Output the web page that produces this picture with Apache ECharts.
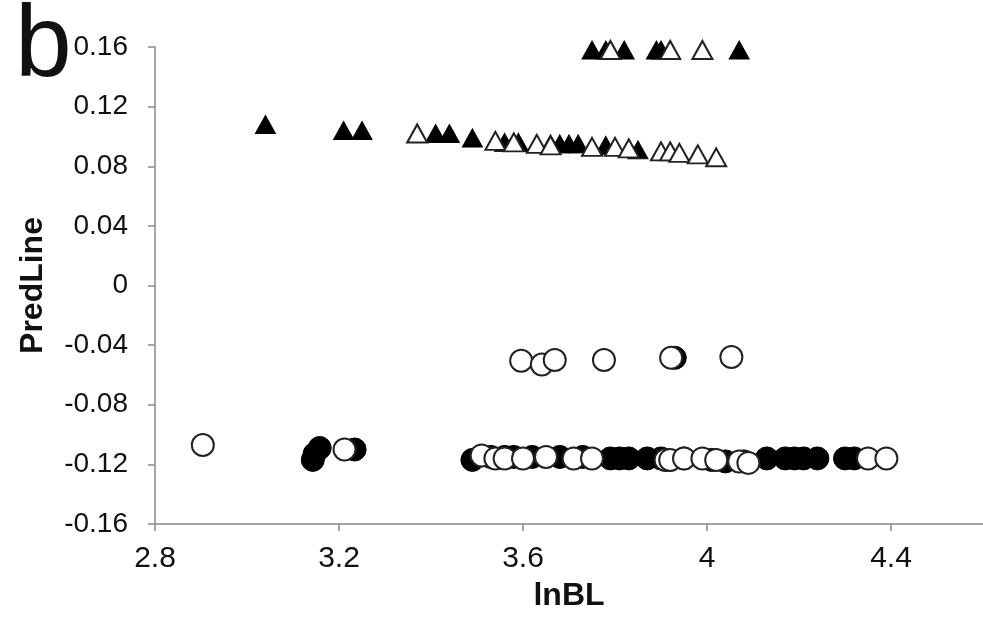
<!DOCTYPE html>
<html><head><meta charset="utf-8">
<script src="https://cdn.jsdelivr.net/npm/echarts@6/dist/echarts.min.js"></script>
<style>html,body{margin:0;padding:0;background:#fff}#c{width:983px;height:617px}</style>
</head><body><div id="c"></div>
<script>
var xTicks = [2.8, 3.2, 3.6, 4.0, 4.4];
var yTicks = [-0.16, -0.12, -0.08, -0.04, 0, 0.04, 0.08, 0.12, 0.16];

var filledCircles = [
  [3.147,-0.113],[3.158,-0.109],[3.143,-0.117],[3.234,-0.110],
  [3.49,-0.117],[3.53,-0.115],[3.56,-0.115],[3.58,-0.115],[3.62,-0.115],[3.68,-0.115],
  [3.73,-0.115],[3.79,-0.116],[3.81,-0.116],[3.83,-0.116],[3.87,-0.116],[3.90,-0.116],
  [3.95,-0.116],[4.01,-0.117],[4.04,-0.118],[4.08,-0.118],[4.13,-0.116],[4.17,-0.116],
  [4.19,-0.116],[4.21,-0.116],[4.24,-0.116],[4.30,-0.116],[4.32,-0.116],[3.93,-0.0485]
];
var openCircles = [
  [2.904,-0.107],[3.212,-0.110],
  [3.596,-0.0505],[3.641,-0.053],[3.669,-0.050],[3.776,-0.050],[3.922,-0.0485],[4.053,-0.048],
  [3.51,-0.114],[3.54,-0.116],[3.56,-0.116],[3.60,-0.116],[3.65,-0.115],[3.71,-0.116],
  [3.75,-0.116],[3.91,-0.117],[3.92,-0.117],[3.95,-0.116],[3.99,-0.116],[4.02,-0.117],
  [4.07,-0.118],[4.09,-0.119],[4.35,-0.116],[4.39,-0.116]
];
var filledTriangles = [
  [3.75,0.158],[3.78,0.158],[3.82,0.158],[3.89,0.158],[3.90,0.158],[4.07,0.158],
  [3.04,0.108],[3.21,0.104],[3.25,0.104],[3.37,0.102],[3.41,0.102],[3.44,0.102],
  [3.49,0.099],[3.56,0.096],[3.59,0.096],[3.66,0.095],[3.68,0.095],[3.70,0.095],
  [3.72,0.095],[3.78,0.094],[3.83,0.092],[3.85,0.091]
];
var openTriangles = [
  [3.79,0.158],[3.92,0.158],[3.99,0.158],
  [3.37,0.102],[3.54,0.097],[3.58,0.096],[3.63,0.095],[3.66,0.094],[3.75,0.093],
  [3.80,0.093],[3.83,0.092],[3.90,0.090],[3.92,0.090],[3.94,0.089],[3.98,0.088],[4.02,0.086]
];

var chart = echarts.init(document.getElementById('c'), null, {renderer:'canvas'});
var axisCol = '#8a8a8a';
var ff = 'Liberation Sans, Arial, sans-serif';
chart.setOption({
  animation:false,
  backgroundColor:'#fff',
  grid:{left:155, top:47, right:-2, bottom:87, containLabel:false},
  xAxis:{
    type:'value', min:2.8, max:4.6, interval:0.4,
    name:'lnBL', nameLocation:'middle', nameGap:56,
    nameTextStyle:{color:'#111', fontSize:32, fontWeight:'bold', fontFamily:ff},
    axisLine:{show:true, onZero:false, lineStyle:{color:axisCol, width:1.5}},
    axisTick:{show:true, inside:false, length:7, lineStyle:{color:axisCol, width:1.5}},
    axisLabel:{margin:20, showMaxLabel:false, color:'#111', fontSize:30, fontFamily:ff,
      formatter:function(v){
        var t = xTicks.filter(function(a){return Math.abs(a-v)<1e-9;});
        return t.length ? String(+t[0].toFixed(1)) : '';
      }},
    splitLine:{show:false}
  },
  yAxis:{
    type:'value', min:-0.16, max:0.16, interval:0.04,
    name:'PredLine', nameLocation:'middle', nameGap:106,
    nameTextStyle:{color:'#111', fontSize:32, fontWeight:'bold', fontFamily:ff},
    axisLine:{show:true, onZero:false, lineStyle:{color:axisCol, width:1.5}},
    axisTick:{show:true, inside:false, length:7, lineStyle:{color:axisCol, width:1.5}},
    axisLabel:{margin:27, color:'#111', fontSize:28, fontFamily:ff,
      formatter:function(v){
        var t = yTicks.filter(function(a){return Math.abs(a-v)<1e-9;});
        return t.length ? String(+t[0].toFixed(2)) : '';
      }},
    splitLine:{show:false}
  },
  graphic:[{type:'text', left:15, top:-3, style:{text:'b', fontSize:102, fill:'#111', fontFamily:ff}}],
  series:[
    {type:'scatter', data:filledCircles, symbol:'circle', symbolSize:23,
     itemStyle:{color:'#000', borderColor:'#000', borderWidth:1, opacity:1}},
    {type:'scatter', data:openCircles, symbol:'circle', symbolSize:22,
     itemStyle:{color:'#fff', borderColor:'#222', borderWidth:2, opacity:1}},
    {type:'scatter', data:filledTriangles, symbol:'triangle', symbolSize:[20,18],
     itemStyle:{color:'#000', borderColor:'#000', borderWidth:1, opacity:1}},
    {type:'scatter', data:openTriangles, symbol:'triangle', symbolSize:[20,18],
     itemStyle:{color:'#fff', borderColor:'#222', borderWidth:2, opacity:1}}
  ]
});
</script></body></html>
